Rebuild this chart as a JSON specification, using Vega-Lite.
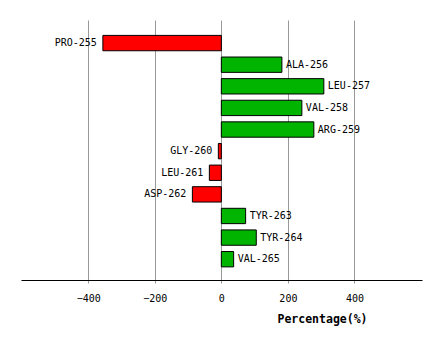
{
  "$schema": "https://vega.github.io/schema/vega-lite/v6.json",
  "autosize": {"type": "none"},
  "width": 401,
  "height": 260,
  "padding": {"left": 21, "top": 20, "right": 19, "bottom": 61},
  "background": "white",
  "config": {"view": {"stroke": null}},
  "data": {"values": [
    {"residue": "PRO-255", "value": -356},
    {"residue": "ALA-256", "value": 182},
    {"residue": "LEU-257", "value": 308},
    {"residue": "VAL-258", "value": 242},
    {"residue": "ARG-259", "value": 278},
    {"residue": "GLY-260", "value": -9},
    {"residue": "LEU-261", "value": -36},
    {"residue": "ASP-262", "value": -87},
    {"residue": "TYR-263", "value": 73},
    {"residue": "TYR-264", "value": 105},
    {"residue": "VAL-265", "value": 37}
  ]},
  "encoding": {
    "y": {"field": "residue", "type": "nominal", "sort": null, "axis": null,
          "scale": {"paddingInner": 0.29, "paddingOuter": 0.66, "align": 0.54}},
    "x": {"field": "value", "type": "quantitative",
          "scale": {"domain": [-602, 603], "nice": false, "zero": false},
          "axis": {"values": [-400, -200, 0, 200, 400], "grid": true, "gridColor": "#999999", "gridOpacity": 1, "gridWidth": 1,
                   "domainColor": "black", "domainWidth": 1, "tickColor": "#999999", "tickSize": 3, "labelPadding": 10,
                   "labelFont": "DejaVu Sans Mono", "labelFontSize": 10, "labelColor": "black",
                   "title": "Percentage(%)", "titleFont": "DejaVu Sans Mono", "titleFontSize": 11.5, "titleFontWeight": "bold",
                   "titleColor": "black", "titleX": 301, "titleAlign": "center", "titlePadding": 10}}
  },
  "layer": [
    {"mark": {"type": "bar", "stroke": "black", "strokeWidth": 1},
     "encoding": {
       "x2": {"datum": 0},
       "color": {"condition": {"test": "datum.value < 0", "value": "#ff0000"}, "value": "#00b400"}
     }},
    {"transform": [{"filter": "datum.value >= 0"}],
     "mark": {"type": "text", "align": "left", "dx": 4, "font": "DejaVu Sans Mono", "fontSize": 10, "color": "black"},
     "encoding": {"text": {"field": "residue"}}},
    {"transform": [{"filter": "datum.value < 0"}],
     "mark": {"type": "text", "align": "right", "dx": -6, "font": "DejaVu Sans Mono", "fontSize": 10, "color": "black"},
     "encoding": {"text": {"field": "residue"}}}
  ]
}
